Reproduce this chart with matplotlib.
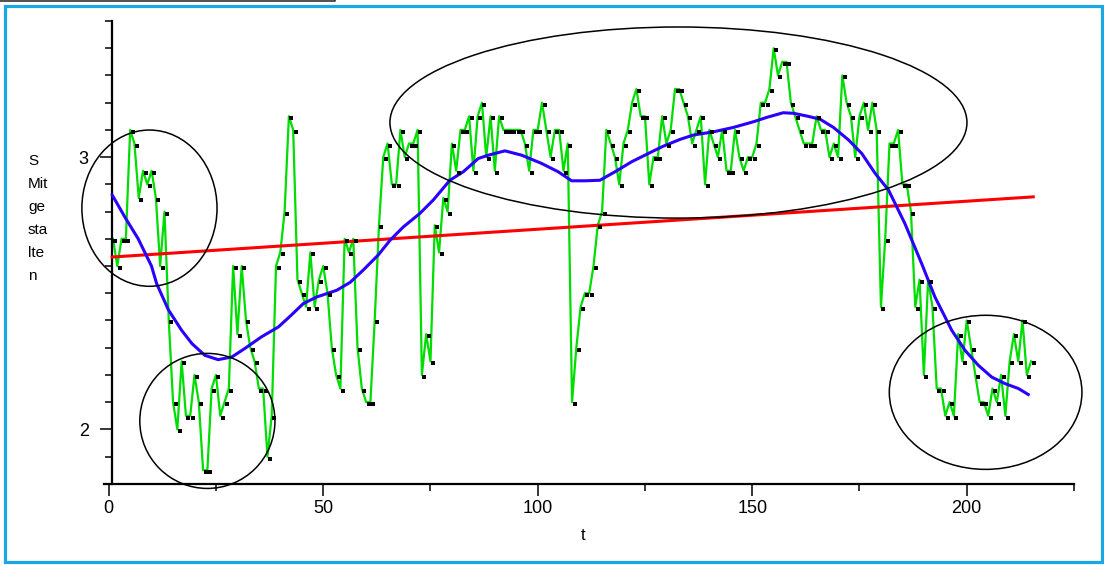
import numpy as np
import matplotlib.pyplot as plt
import matplotlib.transforms as mtransforms
from matplotlib.patches import Ellipse, Rectangle
from matplotlib.lines import Line2D

plt.rcParams["font.family"] = ["Liberation Sans Narrow", "Liberation Sans", "DejaVu Sans"]

# %% Data
# observed series, one value per time step t = 1, 2, ...
level = [
    2.70, 2.60, 2.70, 2.70, 3.10, 3.05, 2.85, 2.95, 2.90, 2.95,
    2.85, 2.60, 2.80, 2.40, 2.10, 2.00, 2.25, 2.05, 2.05, 2.20,
    2.10, 1.85, 1.85, 2.15, 2.20, 2.05, 2.10, 2.15, 2.60, 2.35,
    2.60, 2.40, 2.30, 2.25, 2.15, 2.15, 1.90, 2.05, 2.60, 2.65,
    2.80, 3.15, 3.10, 2.55, 2.50, 2.45, 2.65, 2.45, 2.55, 2.60,
    2.50, 2.30, 2.20, 2.15, 2.70, 2.65, 2.70, 2.30, 2.15, 2.10,
    2.10, 2.40, 2.75, 3.00, 3.05, 2.90, 2.90, 3.10, 3.00, 3.05,
    3.05, 3.10, 2.20, 2.35, 2.25, 2.75, 2.65, 2.85, 2.80, 3.05,
    2.95, 3.10, 3.10, 3.15, 2.95, 3.15, 3.20, 3.00, 3.15, 2.95,
    3.15, 3.10, 3.10, 3.10, 3.10, 3.10, 3.05, 2.95, 3.10, 3.10,
    3.20, 3.10, 3.00, 3.10, 3.10, 2.95, 3.05, 2.10, 2.30, 2.45,
    2.50, 2.50, 2.60, 2.75, 2.80, 3.10, 3.05, 3.00, 2.90, 3.05,
    3.10, 3.20, 3.25, 3.15, 3.15, 2.90, 3.00, 3.00, 3.15, 3.05,
    3.10, 3.25, 3.25, 3.20, 3.15, 3.05, 3.10, 3.15, 2.90, 3.10,
    3.05, 3.00, 3.10, 2.95, 2.95, 3.10, 3.00, 2.95, 3.00, 3.00,
    3.05, 3.20, 3.20, 3.25, 3.40, 3.30, 3.35, 3.35, 3.20, 3.15,
    3.10, 3.05, 3.05, 3.05, 3.15, 3.10, 3.10, 3.00, 3.05, 3.00,
    3.30, 3.20, 3.15, 3.00, 3.15, 3.20, 3.10, 3.20, 3.10, 2.45,
    2.70, 3.05, 3.05, 3.10, 2.90, 2.90, 2.80, 2.45, 2.55, 2.20,
    2.55, 2.45, 2.15, 2.15, 2.05, 2.10, 2.05, 2.35, 2.25, 2.40,
    2.30, 2.20, 2.10, 2.10, 2.05, 2.15, 2.10, 2.20, 2.05, 2.25,
    2.35, 2.25, 2.40, 2.20, 2.25,
]
t = np.arange(1, len(level) + 1)

# linear trend
trend_t = [0.8, 215.5]
trend_y = [2.633, 2.854]

# smoothed curve
smooth_t = [0.85, 3.76, 6.87, 9.97, 11.18, 13.88, 16.99, 19.4, 22.4, 25.51, 28.72, 31.72,
            35.63, 39.54, 42.25, 45.36, 48.46, 53.17, 56.28, 59.39, 62.8, 65.6, 68.71,
            72.52, 75.63, 79.53, 82.64, 86.15, 88.45, 92.36, 96.27, 100.88, 104.79, 107.9,
            111.0, 114.5, 118.0, 121.9, 126.5, 129.25, 133.16, 136.26, 140.98, 145.59,
            150.3, 153.4, 157.21, 159.62, 162.72, 165.83, 168.94, 172.45, 175.55, 178.66,
            181.77, 185.58, 189.49, 192.59, 196.5, 199.61, 202.72, 205.82, 208.93, 212.04,
            214.34]
smooth_y = [2.86, 2.78, 2.70, 2.60, 2.535, 2.44, 2.364, 2.315, 2.272, 2.256, 2.266,
            2.297, 2.34, 2.376, 2.415, 2.462, 2.486, 2.511, 2.54, 2.586, 2.64, 2.695,
            2.744, 2.793, 2.842, 2.915, 2.946, 2.995, 3.007, 3.023, 3.007, 2.977, 2.946,
            2.913, 2.913, 2.915, 2.946, 2.983, 3.019, 3.04, 3.065, 3.081, 3.093, 3.109,
            3.13, 3.146, 3.163, 3.161, 3.151, 3.139, 3.109, 3.063, 3.013, 2.94, 2.879,
            2.756, 2.609, 2.486, 2.364, 2.29, 2.235, 2.192, 2.168, 2.15, 2.128]

# circled regions: centre t, centre value, width (t), height (value)
circle_t = [9.5, 23.0, 132.8, 204.4]
circle_y = [2.8125, 2.031, 3.127, 2.136]
circle_w = [31.5, 31.5, 134.5, 44.9]
circle_h = [0.574, 0.496, 0.702, 0.566]

# %% Plot
W, H = 1104, 565
fig = plt.figure(figsize=(W / 100, H / 100), dpi=100)
ax = fig.add_axes([108.7 / W, (H - 483.8) / H, (1074 - 108.7) / W, (483.8 - 21) / H])

ax.plot(t, level, color="#00dd00", lw=1.6, zorder=2)
ax.plot(trend_t, trend_y, color="#ff0000", lw=2.2, zorder=3)
ax.plot(smooth_t, smooth_y, color="#2a00ff", lw=2.2, zorder=4)
shift = mtransforms.offset_copy(ax.transData, fig=fig, x=2.5, y=-2, units="dots")
ax.plot(t, level, ls="none", marker="s", ms=2.6, color="black", mew=0,
        transform=shift, zorder=5)

for cx, cy, w, h in zip(circle_t, circle_y, circle_w, circle_h):
    ax.add_patch(Ellipse((cx, cy), w, h, fill=False, ec="black", lw=1.1,
                         clip_on=False, zorder=6))

ax.set_xlim(0, 225)
ax.set_ylim(1.8, 3.5)
ax.set_xticks([0, 50, 100, 150, 200])
ax.set_xticks([25, 75, 125, 175, 225], minor=True)
ax.set_yticks([2, 3])
ax.set_yticks(np.arange(1.8, 3.51, 0.1), minor=True)
ax.set_yticklabels(["2", "3"])
ax.tick_params(which="major", length=8.5, width=1.1, labelsize=13, pad=3)
ax.tick_params(which="minor", length=5, width=1.1)
ax.tick_params(axis="y", which="major", pad=8)

for side in ["top", "right"]:
    ax.spines[side].set_visible(False)
for side in ["left", "bottom"]:
    ax.spines[side].set_linewidth(1.6)
ax.spines["left"].set_position(("data", 0.7))
ax.spines["bottom"].set_bounds(-1.2, 225)

fig.text(583 / W, 1 - 536 / H, "t", ha="center", va="center", fontsize=12)
fig.text(28 / W, 1 - 154 / H, "S\nMit\nge\nsta\nlte\nn", ha="left", va="top",
         fontsize=11, linespacing=1.81)

# frame
fig.patches.append(Rectangle((5.5 / W, 3 / H), (1101.5 - 5.5) / W, (559.5 - 3) / H,
                             transform=fig.transFigure, fill=False, ec="#19a8e2", lw=2.3))
fig.lines.append(Line2D([0, 335 / W, 335 / W], [1 - 1 / H, 1 - 1 / H, 1],
                        transform=fig.transFigure, color="#333333", lw=1.2))

fig.savefig("out.png", dpi=100)
